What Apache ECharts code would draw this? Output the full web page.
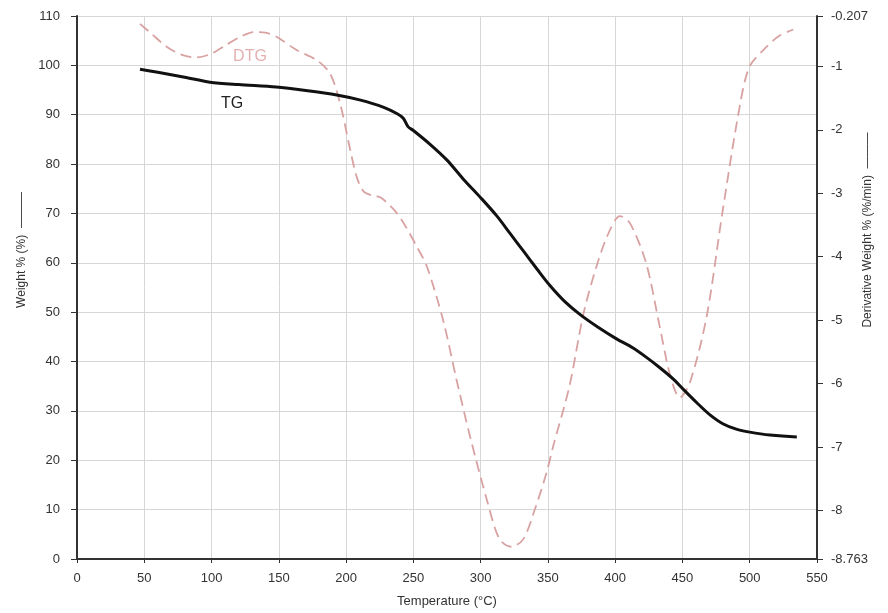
<!DOCTYPE html>
<html>
<head>
<meta charset="utf-8">
<script src="https://cdn.jsdelivr.net/npm/echarts@6/dist/echarts.min.js"></script>
<style>
  html, body { margin: 0; padding: 0; background: #fff; }
  #chart { width: 888px; height: 613px; }
</style>
</head>
<body>
<div id="chart"></div>
<script>
// temperature (°C), weight (%)
const tgData = [
  [46.8, 99.2], [60, 98.6], [80, 97.6], [98.8, 96.6], [120, 96.1], [148, 95.6],
  [170, 94.9], [193, 94.0], [210, 93.0], [228, 91.5], [238, 90.2], [242.5, 89.3],
  [246, 87.6], [250, 86.8], [262, 84.1], [275, 80.8], [287, 77.0], [300, 73.2],
  [312, 69.5], [322, 65.9], [332, 62.3], [342, 58.7], [351.5, 55.4], [362, 52.3],
  [374, 49.5], [387, 47.0], [401, 44.6], [413, 42.8], [423, 40.9], [433, 38.8],
  [443, 36.5], [452, 34.0], [460.5, 31.7], [470, 29.3], [480, 27.4], [490, 26.3],
  [500, 25.7], [515, 25.1], [535, 24.7]
]

// temperature (°C), derivative weight (%/min)
const dtgData = [
  [46.8, -0.33], [55, -0.48], [66.6, -0.69], [78, -0.82], [89, -0.86], [100, -0.80],
  [111, -0.66], [122, -0.53], [131, -0.46], [140, -0.47], [148, -0.53], [163, -0.74],
  [178, -0.90], [188, -1.11], [195.5, -1.58], [203, -2.31], [208, -2.75], [213, -2.97],
  [220, -3.04], [226, -3.07], [237.6, -3.31], [245, -3.55], [252.5, -3.84], [260, -4.15],
  [272, -4.99], [282, -5.93], [292, -6.82], [304.5, -7.82], [314, -8.45], [323, -8.57],
  [331.7, -8.45], [340, -8.0], [349, -7.40], [354, -6.98], [366, -6.04], [376, -4.94],
  [384, -4.30], [394, -3.68], [403.6, -3.36], [411, -3.47], [423, -4.10], [433, -5.09],
  [441, -5.88], [448, -6.22], [455.6, -5.98], [468, -4.94], [480, -3.26], [493, -1.58],
  [500, -1.00], [512.6, -0.69], [522, -0.52], [532.4, -0.42]
]

const dtgTicks = [-8.763, -8, -7, -6, -5, -4, -3, -2, -1, -0.207]

const chart = echarts.init(document.getElementById('chart'))
const font = 'Liberation Sans, Arial, sans-serif'
const option = {
  animation: false,
  textStyle: { fontFamily: font },
  grid: { left: 77, right: 71, top: 16, bottom: 53 },
  xAxis: {
    type: 'value',
    min: 0,
    max: 550,
    interval: 50,
    name: 'Temperature (°C)',
    nameLocation: 'middle',
    nameGap: 36,
    nameTextStyle: { color: '#333', fontSize: 13 },
    axisLine: { lineStyle: { color: '#333', width: 2 } },
    axisTick: { lineStyle: { color: '#333' }, length: 4 },
    axisLabel: { color: '#333', fontSize: 13, margin: 13 },
    splitLine: { show: true, lineStyle: { color: '#d6d6d6' } }
  },
  yAxis: [
    {
      type: 'value',
      min: 0,
      max: 110,
      interval: 10,
      axisLine: { show: true, lineStyle: { color: '#333', width: 2 } },
      axisTick: { show: true, lineStyle: { color: '#333' }, length: 6 },
      axisLabel: { color: '#333', fontSize: 13, margin: 17 },
      splitLine: { show: true, lineStyle: { color: '#d6d6d6' } }
    },
    {
      type: 'value',
      position: 'right',
      min: -8.763,
      max: -0.207,
      axisLine: { show: true, lineStyle: { color: '#333', width: 2 } },
      axisTick: { show: true, customValues: dtgTicks, lineStyle: { color: '#333' }, length: 6 },
      axisLabel: { customValues: dtgTicks, color: '#333', fontSize: 13, margin: 14 },
      splitLine: { show: false }
    }
  ],
  graphic: [
    {
      type: 'text', x: 22, y: 250, rotation: Math.PI / 2,
      style: { text: 'Weight % (%)  ———', fill: '#333', font: '12px ' + font, align: 'center', verticalAlign: 'middle' }
    },
    {
      type: 'text', x: 868, y: 230, rotation: Math.PI / 2,
      style: { text: 'Derivative Weight % (%/min)  ———', fill: '#333', font: '12px ' + font, align: 'center', verticalAlign: 'middle' }
    },
    {
      type: 'text', x: 250, y: 57,
      style: { text: 'DTG', fill: '#e3b0b0', font: '16px ' + font, align: 'center', verticalAlign: 'middle' }
    },
    {
      type: 'text', x: 232, y: 104,
      style: { text: 'TG', fill: '#222', font: '16px ' + font, align: 'center', verticalAlign: 'middle' }
    }
  ],
  series: [
    {
      name: 'DTG',
      type: 'line',
      yAxisIndex: 1,
      smooth: 0.3,
      symbol: 'none',
      lineStyle: { color: '#d9a2a2', width: 1.8, type: [11, 6] },
      data: dtgData
    },
    {
      name: 'TG',
      type: 'line',
      yAxisIndex: 0,
      smooth: 0.3,
      symbol: 'none',
      lineStyle: { color: '#111', width: 3 },
      data: tgData
    }
  ]
}
chart.setOption(option)
</script>
</body>
</html>
